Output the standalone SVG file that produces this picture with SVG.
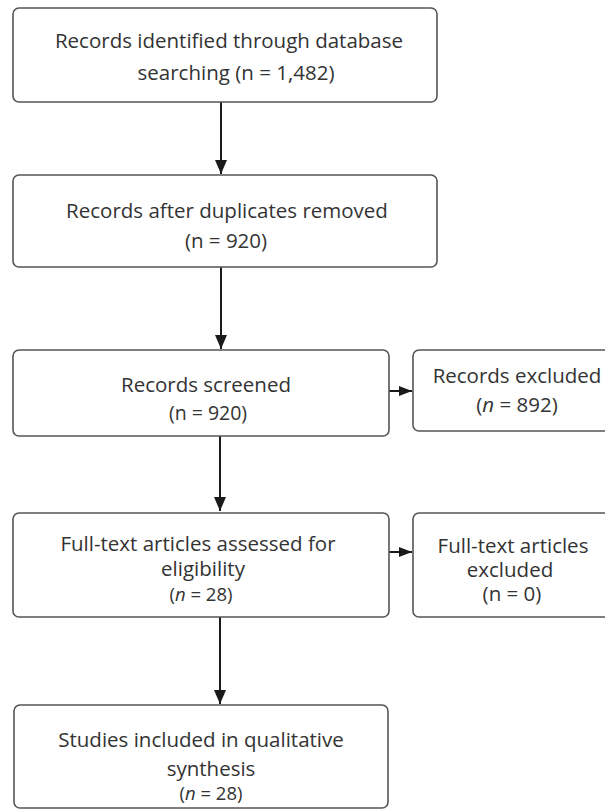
<svg xmlns="http://www.w3.org/2000/svg" width="605" height="810" viewBox="0 0 605 810">
  <style>
    .box { fill: #ffffff; stroke: #555555; stroke-width: 1.6; }
    .t { font-family: "Open Sans", "Liberation Sans", sans-serif; font-size: 20.5px; fill: #333333; text-anchor: middle; }
    .m { font-size: 19.5px; }
    .s { font-size: 18.5px; }
    .conn { stroke: #1a1a1a; stroke-width: 2; fill: none; }
  </style>
  <defs>
    <marker id="headV" viewBox="0 0 14 12" refX="14" refY="6" markerWidth="14" markerHeight="12" markerUnits="userSpaceOnUse" orient="auto">
      <path d="M0,0 L14,6 L0,12 z" fill="#1a1a1a"/>
    </marker>
    <marker id="headH" viewBox="0 0 13 10" refX="13" refY="5" markerWidth="13" markerHeight="10" markerUnits="userSpaceOnUse" orient="auto">
      <path d="M0,0 L13,5 L0,10 z" fill="#1a1a1a"/>
    </marker>
  </defs>
  <rect width="605" height="810" fill="#ffffff"/>

  <g id="connectors">
    <line class="conn" x1="221" y1="102" x2="221" y2="174" marker-end="url(#headV)"/>
    <line class="conn" x1="221" y1="267" x2="221" y2="349" marker-end="url(#headV)"/>
    <line class="conn" x1="389" y1="391" x2="412" y2="391" marker-end="url(#headH)"/>
    <line class="conn" x1="220" y1="436" x2="220" y2="511" marker-end="url(#headV)"/>
    <line class="conn" x1="389" y1="552" x2="412" y2="552" marker-end="url(#headH)"/>
    <line class="conn" x1="220" y1="617" x2="220" y2="704" marker-end="url(#headV)"/>
  </g>

  <g id="identified">
    <rect class="box" x="13" y="8" width="424" height="94" rx="6"/>
    <text class="t" x="229" y="48">Records identified through database</text>
    <text class="t" x="236" y="80">searching (n = 1,482)</text>
  </g>

  <g id="deduplicated">
    <rect class="box" x="13" y="175" width="424" height="92" rx="6"/>
    <text class="t" x="227" y="218">Records after duplicates removed</text>
    <text class="t" x="226" y="248">(n = 920)</text>
  </g>

  <g id="screened">
    <rect class="box" x="13" y="350" width="376" height="86" rx="6"/>
    <text class="t" x="206" y="392">Records screened</text>
    <text class="t m" x="208" y="420">(n = 920)</text>
  </g>

  <g id="excluded">
    <rect class="box" x="413" y="350" width="215" height="81" rx="6"/>
    <text class="t" x="517" y="383">Records excluded</text>
    <text class="t" x="517" y="412">(<tspan font-style="italic">n</tspan> = 892)</text>
  </g>

  <g id="fulltext">
    <rect class="box" x="13" y="513" width="376" height="104" rx="6"/>
    <text class="t" x="198" y="551">Full-text articles assessed for</text>
    <text class="t" x="203" y="576">eligibility</text>
    <text class="t s" x="201" y="601">(<tspan font-style="italic">n</tspan> = 28)</text>
  </g>

  <g id="fulltext-excluded">
    <rect class="box" x="413" y="513" width="215" height="104" rx="6"/>
    <text class="t" x="513" y="553">Full-text articles</text>
    <text class="t" x="510" y="577">excluded</text>
    <text class="t" x="512" y="601">(n = 0)</text>
  </g>

  <g id="included">
    <rect class="box" x="14" y="705" width="374" height="103" rx="6"/>
    <text class="t" x="201" y="747">Studies included in qualitative</text>
    <text class="t" x="211" y="776">synthesis</text>
    <text class="t s" x="211" y="800">(<tspan font-style="italic">n</tspan> = 28)</text>
  </g>
</svg>
